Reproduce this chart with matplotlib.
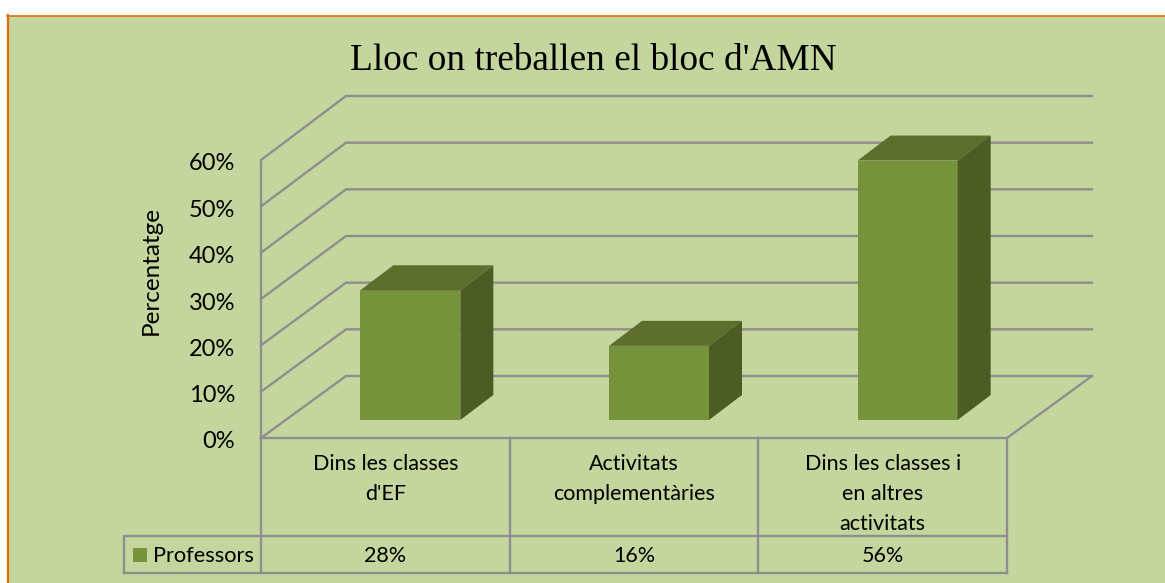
import matplotlib
matplotlib.use("Agg")
import matplotlib.pyplot as plt
from matplotlib.patches import Polygon, Rectangle
from matplotlib.transforms import ScaledTranslation

# ---- data ----
title = "Lloc on treballen el bloc d'AMN"
y_label = "Percentatge"
series_name = "Professors"
categories = ["Dins les classes\nd'EF", "Activitats\ncomplementàries", "Dins les classes i\nen altres\nactivitats"]
values = [28, 16, 56]
value_labels = ["28%", "16%", "56%"]
y_ticks = [0, 10, 20, 30, 40, 50, 60]
y_tick_labels = ["0%", "10%", "20%", "30%", "40%", "50%", "60%"]

# ---- style ----
W, H = 1165, 583
BG, EDGE, GRID = "#C4D69E", "#E36C0A", "#8E8E8E"
FRONT, TOP, SIDE = "#76933C", "#5E6E2D", "#4C5C24"
SANS = "Lato"

fig = plt.figure(figsize=(W / 100, H / 100), dpi=100, facecolor="white")
# chart background with the orange border on the left and top only
bg = Rectangle((7 / W, 0), 1 - 7 / W, 1 - 16 / H, transform=fig.transFigure,
               facecolor=BG, edgecolor="none", zorder=0)
fig.add_artist(bg)
fig.add_artist(plt.Line2D([8 / W, 8 / W], [0, 1 - 15 / H], color=EDGE, lw=1.6, zorder=0.5))
fig.add_artist(plt.Line2D([7 / W, 1], [1 - 15.5 / H, 1 - 15.5 / H], color=EDGE, lw=1.2, zorder=0.5))

# axes = the front plane of the 3D box
ax = fig.add_axes([261 / W, (H - 438) / H, 746 / W, 278 / H], zorder=5)
ax.patch.set_alpha(0)
n = len(categories)
ax.set_xlim(0, n)
ax.set_ylim(0, 60)
for s in ax.spines.values():
    s.set_visible(False)
ax.set_xticks([])
ax.set_yticks(y_ticks, y_tick_labels, fontsize=17, family=SANS)
ax.tick_params(axis="y", length=0, pad=25, colors="black")
shift = ScaledTranslation(9 / 100, -2 / 100, fig.dpi_scale_trans)
for lab in ax.get_yticklabels():
    lab.set_transform(lab.get_transform() + shift)

# pixel -> data size conversion for the oblique projection
px = n / 746
py = 60 / 278
depth_x, depth_y = 85 * px, 62 * py
back_scale = 280 / 278
lw = 1.7
line = dict(color=GRID, lw=lw, clip_on=False, solid_capstyle="projecting", zorder=1)

# walls, gridlines and floor
for t in y_ticks:
    back = t * back_scale + depth_y
    ax.plot([0, depth_x, n + depth_x], [t, back, back], **line)
ax.plot([0, 0], [0, 60], **line)
ax.plot([0, n, n + depth_x], [0, 0, depth_y], **line)

# bars
off_x, off_y = 25 * px, 18 * py
bw, bdx, bdy = 100 * px, 33 * px, 25 * py
for i, v in enumerate(values):
    x0 = i + 0.5 - bw / 2 + off_x
    x1 = x0 + bw
    y0, y1 = off_y, off_y + v
    ax.add_patch(Polygon([(x0, y0), (x1, y0), (x1, y1), (x0, y1)], fc=FRONT, ec="none", clip_on=False, zorder=3))
    ax.add_patch(Polygon([(x0, y1), (x1, y1), (x1 + bdx, y1 + bdy), (x0 + bdx, y1 + bdy)],
                         fc=TOP, ec="none", clip_on=False, zorder=3))
    ax.add_patch(Polygon([(x1, y0), (x1 + bdx, y0 + bdy), (x1 + bdx, y1 + bdy), (x1, y1)],
                         fc=SIDE, ec="none", clip_on=False, zorder=3))

# data table below the plot
row1 = -98 * py
row2 = -135 * py
leg_x = -137 * px
for i in range(n + 1):
    ax.plot([i, i], [0, row2], **line)
ax.plot([0, n], [row1, row1], **line)
ax.plot([leg_x, n], [row2, row2], **line)
ax.plot([leg_x, leg_x, 0], [row2, row1, row1], **line)

txt = dict(family=SANS, fontsize=15.5, color="black", ha="center", clip_on=False)
for i, (c, lab) in enumerate(zip(categories, value_labels)):
    ax.text(i + 0.5, -16.5 * py, c, va="top", linespacing=1.6, **txt)
    ax.text(i + 0.5, (row1 + row2) / 2 - 1 * py, lab, va="center", **txt)

ax.add_patch(Rectangle((leg_x + 9 * px, row1 - 26 * py), 14 * px, 14 * py, fc=FRONT, ec="none", clip_on=False))
ax.text(leg_x + 29 * px, (row1 + row2) / 2 - 1.5 * py, series_name, family=SANS, fontsize=15.7, ha="left", va="center", clip_on=False)

fig.text(151 / W, 1 - 270 / H, y_label, rotation=90, family=SANS, fontsize=17.5, ha="center", va="center", zorder=6)
fig.text(593 / W, 1 - 61 / H, title, family="Liberation Serif", fontsize=26.8, ha="center", va="center", zorder=6)

fig.savefig("out.png", dpi=100, facecolor="white")
